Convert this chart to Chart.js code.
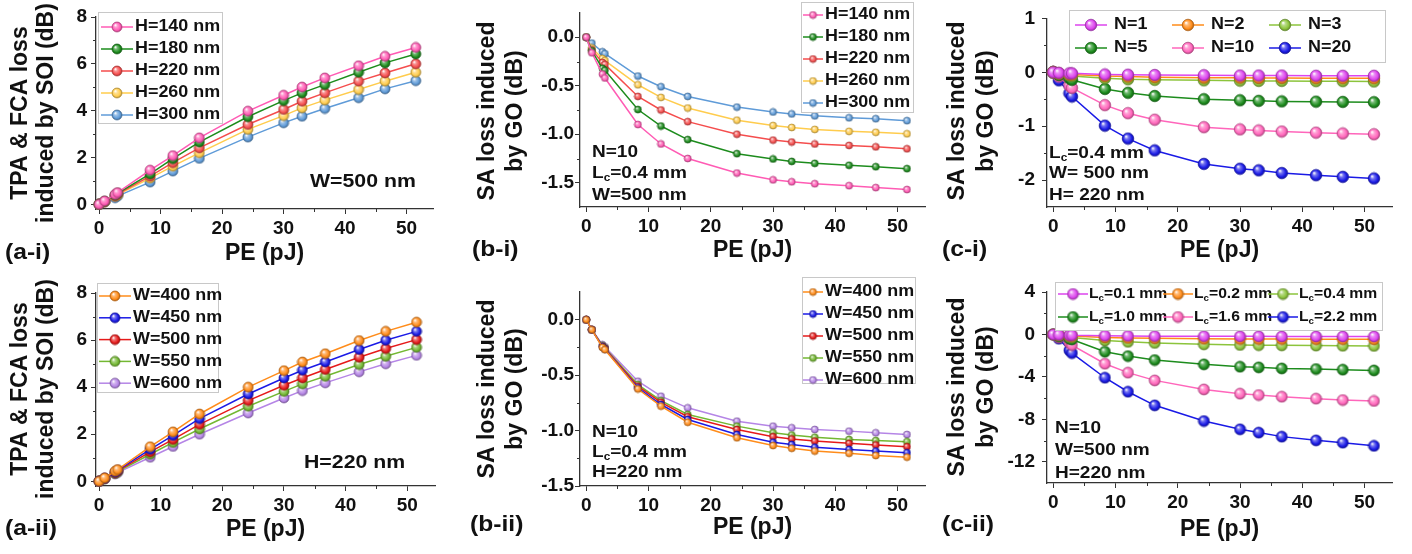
<!DOCTYPE html>
<html>
<head>
<meta charset="utf-8">
<script src="https://cdn.jsdelivr.net/npm/chart.js@4.4.1/dist/chart.umd.min.js"></script>
<style>
  html, body { margin: 0; padding: 0; background: #fff; }
  #wrap { position: relative; width: 1412px; height: 554px; overflow: hidden; }
  #wrap canvas { position: absolute; left: 0; top: 0; }
</style>
</head>
<body>
<div id="wrap">
  <canvas id="ai" width="1412" height="554"></canvas>
  <canvas id="aii" width="1412" height="554"></canvas>
  <canvas id="bi" width="1412" height="554"></canvas>
  <canvas id="bii" width="1412" height="554"></canvas>
  <canvas id="ci" width="1412" height="554"></canvas>
  <canvas id="cii" width="1412" height="554"></canvas>
</div>
<script>
// pulse energy (pJ), shared by every panel
const peValues = [0, 0.9, 2.6, 3.0, 8.3, 12.0, 16.3, 24.2, 30.0, 33.0, 36.7, 42.2, 46.5, 51.5];
const peTicks = [0, 10, 20, 30, 40, 50];

const heightLabels = ['H=140 nm', 'H=180 nm', 'H=220 nm', 'H=260 nm', 'H=300 nm'];
const widthLabels = ['W=400 nm', 'W=450 nm', 'W=500 nm', 'W=550 nm', 'W=600 nm'];
const layerLabels = ['N=1', 'N=2', 'N=3', 'N=5', 'N=10', 'N=20'];
const lengthLabels = ['L_c=0.1 mm', 'L_c=0.2 mm', 'L_c=0.4 mm', 'L_c=1.0 mm', 'L_c=1.6 mm', 'L_c=2.2 mm'];

// (a-i) TPA & FCA loss vs H (W=500 nm)
const soiH140 = [0, 0.14, 0.42, 0.50, 1.46, 2.08, 2.84, 3.98, 4.66, 5.01, 5.40, 5.92, 6.32, 6.70];
const soiH180 = [0, 0.13, 0.40, 0.47, 1.30, 1.95, 2.66, 3.74, 4.43, 4.76, 5.11, 5.64, 6.04, 6.42];
const soiH220 = [0, 0.12, 0.37, 0.44, 1.20, 1.78, 2.41, 3.41, 4.05, 4.40, 4.76, 5.26, 5.61, 6.00];
const soiH260 = [0, 0.11, 0.34, 0.40, 1.12, 1.63, 2.20, 3.20, 3.79, 4.12, 4.45, 4.90, 5.26, 5.64];
const soiH300 = [0, 0.10, 0.28, 0.35, 0.95, 1.42, 1.96, 2.87, 3.48, 3.76, 4.09, 4.55, 4.93, 5.28];

// (a-ii) TPA & FCA loss vs W (H=220 nm)
const soiW400 = [0, 0.14, 0.43, 0.50, 1.47, 2.10, 2.86, 4.00, 4.70, 5.07, 5.42, 5.98, 6.37, 6.76];
const soiW450 = [0, 0.13, 0.40, 0.47, 1.36, 1.95, 2.66, 3.71, 4.39, 4.72, 5.07, 5.60, 5.99, 6.37];
const soiW500 = [0, 0.12, 0.37, 0.44, 1.25, 1.78, 2.42, 3.43, 4.08, 4.39, 4.75, 5.27, 5.64, 6.02];
const soiW550 = [0, 0.11, 0.34, 0.41, 1.15, 1.65, 2.22, 3.19, 3.82, 4.14, 4.46, 4.96, 5.31, 5.69];
const soiW600 = [0, 0.10, 0.31, 0.37, 1.02, 1.48, 2.00, 2.90, 3.54, 3.85, 4.18, 4.65, 4.99, 5.35];

// (b-i) SA loss vs H
const goH140 = [0, -0.16, -0.38, -0.42, -0.90, -1.10, -1.25, -1.40, -1.47, -1.49, -1.51, -1.53, -1.55, -1.57];
const goH180 = [0, -0.14, -0.32, -0.34, -0.745, -0.915, -1.055, -1.20, -1.255, -1.28, -1.30, -1.32, -1.335, -1.355];
const goH220 = [0, -0.13, -0.26, -0.28, -0.61, -0.75, -0.87, -1.00, -1.06, -1.08, -1.10, -1.115, -1.13, -1.15];
const goH260 = [0, -0.11, -0.22, -0.24, -0.49, -0.62, -0.73, -0.855, -0.91, -0.93, -0.95, -0.97, -0.98, -0.995];
const goH300 = [0, -0.06, -0.15, -0.17, -0.40, -0.51, -0.61, -0.72, -0.77, -0.79, -0.81, -0.83, -0.84, -0.86];

// (b-ii) SA loss vs W
const goW400 = [0, -0.09, -0.25, -0.27, -0.625, -0.78, -0.925, -1.065, -1.135, -1.16, -1.185, -1.205, -1.225, -1.24];
const goW450 = [0, -0.09, -0.245, -0.265, -0.615, -0.765, -0.90, -1.035, -1.105, -1.125, -1.15, -1.17, -1.185, -1.20];
const goW500 = [0, -0.09, -0.24, -0.26, -0.60, -0.745, -0.875, -0.99, -1.055, -1.075, -1.095, -1.115, -1.13, -1.145];
const goW550 = [0, -0.09, -0.235, -0.255, -0.585, -0.73, -0.855, -0.96, -1.02, -1.04, -1.06, -1.08, -1.09, -1.10];
const goW600 = [0, -0.09, -0.225, -0.245, -0.555, -0.69, -0.795, -0.915, -0.96, -0.975, -0.99, -1.005, -1.02, -1.035];

// (c-i) SA loss vs number of GO layers
const goN1 = [0, -0.01, -0.02, -0.02, -0.04, -0.045, -0.05, -0.055, -0.06, -0.06, -0.06, -0.065, -0.065, -0.065];
const goN2 = [0, -0.02, -0.04, -0.04, -0.07, -0.08, -0.09, -0.10, -0.10, -0.105, -0.105, -0.11, -0.11, -0.11];
const goN3 = [0, -0.03, -0.06, -0.07, -0.11, -0.13, -0.14, -0.15, -0.155, -0.16, -0.16, -0.165, -0.165, -0.17];
const goN5 = [0, -0.05, -0.11, -0.14, -0.31, -0.38, -0.44, -0.50, -0.52, -0.53, -0.54, -0.545, -0.55, -0.555];
const goN10 = [0, -0.08, -0.25, -0.29, -0.61, -0.76, -0.88, -1.02, -1.06, -1.08, -1.10, -1.12, -1.135, -1.15];
const goN20 = [0, -0.15, -0.39, -0.45, -0.99, -1.23, -1.45, -1.70, -1.79, -1.82, -1.87, -1.91, -1.94, -1.97];

// (c-ii) SA loss vs GO coating length
const goL01 = [0, -0.03, -0.06, -0.07, -0.12, -0.14, -0.16, -0.17, -0.18, -0.18, -0.19, -0.19, -0.19, -0.19];
const goL02 = [0, -0.05, -0.13, -0.15, -0.28, -0.33, -0.37, -0.41, -0.43, -0.44, -0.44, -0.45, -0.45, -0.46];
const goL04 = [0, -0.10, -0.25, -0.28, -0.57, -0.70, -0.80, -0.93, -0.99, -1.01, -1.03, -1.05, -1.07, -1.08];
const goL10 = [0, -0.18, -0.40, -0.47, -1.63, -2.04, -2.41, -2.82, -3.04, -3.10, -3.20, -3.26, -3.32, -3.39];
const goL16 = [0, -0.30, -0.78, -1.00, -2.76, -3.60, -4.33, -5.18, -5.58, -5.71, -5.87, -6.05, -6.18, -6.27];
const goL22 = [0, -0.40, -1.50, -1.76, -4.08, -5.40, -6.68, -8.16, -8.94, -9.25, -9.63, -9.98, -10.20, -10.50];

const FONT = '"Liberation Sans", Arial, sans-serif';
const TEXT_STRETCH = 1.12; // the source figure is a bit wider than tall
Chart.defaults.font.family = FONT;
Chart.defaults.font.weight = 'bold';
Chart.defaults.color = '#111';

const colorsH = ['#ff5bb4', '#1d8c1d', '#f54d4d', '#ffcc4d', '#5f9bd8'];
const colorsW = ['#ff8c1a', '#1a1ae6', '#e61a1a', '#73b832', '#b585e6'];
const colorsC = ['#dd44ee', '#ff8c1a', '#8cc43c', '#1d8c1d', '#ff66bb', '#1a1ae6'];

function shade(hex, f) {
  const n = parseInt(hex.slice(1), 16);
  const t = f < 0 ? 0 : 255, p = Math.abs(f);
  const ch = [n >> 16, (n >> 8) & 255, n & 255].map(c => Math.round(c + (t - c) * p));
  return 'rgb(' + ch.join(',') + ')';
}

// glossy sphere used as point marker
function ball(color, r) {
  const c = document.createElement('canvas');
  const s = Math.ceil(2 * r + 2);
  c.width = s; c.height = s;
  const g = c.getContext('2d');
  const cx = s / 2, cy = s / 2;
  const grad = g.createRadialGradient(cx - r * 0.35, cy - r * 0.4, r * 0.05, cx, cy, r);
  grad.addColorStop(0, '#ffffff');
  grad.addColorStop(0.3, shade(color, 0.4));
  grad.addColorStop(0.75, color);
  grad.addColorStop(1, shade(color, -0.35));
  g.fillStyle = grad;
  g.beginPath(); g.arc(cx, cy, r, 0, Math.PI * 2); g.fill();
  g.strokeStyle = shade(color, -0.3);
  g.lineWidth = 0.7;
  g.stroke();
  return c;
}

// text with "_c" style subscripts
function richParts(text) {
  return text.split(/_(\w)/).map((p, i) => ({ p, sub: i % 2 === 1 })).filter(o => o.p);
}
function richWidth(ctx, text, size) {
  let w = 0;
  richParts(text).forEach(o => {
    ctx.font = 'bold ' + (o.sub ? size * 0.62 : size) + 'px ' + FONT;
    w += ctx.measureText(o.p).width;
  });
  return w;
}
function drawRich(ctx, text, x, y, size) {
  let cx = x;
  ctx.textAlign = 'left';
  richParts(text).forEach(o => {
    ctx.font = 'bold ' + (o.sub ? size * 0.62 : size) + 'px ' + FONT;
    ctx.fillText(o.p, cx, o.sub ? y + size * 0.3 : y);
    cx += ctx.measureText(o.p).width;
  });
}
function drawWide(ctx, text, x, y, size) {
  ctx.save();
  ctx.translate(x, y);
  ctx.scale(TEXT_STRETCH, 1);
  drawRich(ctx, text, 0, 0, size);
  ctx.restore();
}

const figureLegend = {
  id: 'figureLegend',
  afterDatasetsDraw(chart, args, opts) {
    if (!opts.box) return;
    const ctx = chart.ctx;
    ctx.save();
    const [bx, by, bw, bh] = opts.box;
    ctx.fillStyle = '#fff';
    ctx.fillRect(bx, by, bw, bh);
    ctx.strokeStyle = '#c8c8c8';
    ctx.lineWidth = 1;
    ctx.strokeRect(bx + 0.5, by + 0.5, bw, bh);
    chart.data.datasets.forEach((ds, i) => {
      const col = i % opts.cols, row = Math.floor(i / opts.cols);
      const x0 = opts.x + col * opts.colStep;
      const y = opts.y + row * opts.rowStep;
      ctx.strokeStyle = ds.borderColor;
      ctx.lineWidth = 1.5;
      ctx.beginPath(); ctx.moveTo(x0, y); ctx.lineTo(x0 + opts.lineLen, y); ctx.stroke();
      const img = ds.pointStyle;
      ctx.drawImage(img, x0 + opts.lineLen / 2 - img.width / 2, y - img.height / 2);
      ctx.fillStyle = '#111';
      ctx.textBaseline = 'middle';
      drawWide(ctx, ds.label, x0 + opts.lineLen + opts.gap, y, opts.size);
    });
    ctx.restore();
  }
};

const figureText = {
  id: 'figureText',
  afterDraw(chart, args, opts) {
    const ctx = chart.ctx;
    (opts.items || []).forEach(t => {
      ctx.save();
      ctx.fillStyle = '#111';
      ctx.textBaseline = 'middle';
      if (t.rotate) {
        ctx.translate(t.x, t.y);
        ctx.rotate(-Math.PI / 2);
        drawRich(ctx, t.text, -richWidth(ctx, t.text, t.size) / 2, 0, t.size);
      } else {
        drawWide(ctx, t.text, t.x, t.y, t.size);
      }
      ctx.restore();
    });
  }
};

const minorTicks = {
  id: 'minorTicks',
  afterDraw(chart, args, opts) {
    const ctx = chart.ctx, xs = chart.scales.x, ys = chart.scales.y;
    ctx.save();
    ctx.strokeStyle = '#333';
    ctx.lineWidth = 1;
    ctx.beginPath();
    (opts.x || []).forEach(v => {
      const px = Math.round(xs.getPixelForValue(v)) + 0.5;
      ctx.moveTo(px, xs.top); ctx.lineTo(px, xs.top + 3);
    });
    (opts.y || []).forEach(v => {
      const py = Math.round(ys.getPixelForValue(v)) + 0.5;
      ctx.moveTo(ys.right, py); ctx.lineTo(ys.right - 3, py);
    });
    ctx.stroke();
    ctx.restore();
  }
};

function panel(id, cfg) {
  const [L, T, R, B] = cfg.area;
  const lh = 23 * 1.2;
  const xBottom = cfg.xTitleY + lh / 2;
  const axisColor = '#333';
  new Chart(document.getElementById(id), {
    type: 'line',
    data: {
      datasets: cfg.series.map((s, i) => ({
        label: cfg.labels[i],
        data: peValues.map((x, k) => ({ x, y: s[k] })),
        borderColor: cfg.colors[i],
        borderWidth: 1.5,
        pointStyle: ball(cfg.colors[i], cfg.r),
        pointRadius: cfg.r,
        clip: false,
        tension: 0
      }))
    },
    options: {
      responsive: false,
      animation: false,
      devicePixelRatio: 1,
      events: [],
      layout: { autoPadding: false, padding: { left: 0, top: T, right: 1412 - R, bottom: 554 - xBottom } },
      plugins: {
        legend: { display: false },
        tooltip: { enabled: false },
        figureLegend: cfg.legend,
        figureText: { items: cfg.texts },
        minorTicks: { x: [5, 15, 25, 35, 45], y: cfg.yMinor }
      },
      scales: {
        x: {
          type: 'linear', min: cfg.xRange[0], max: cfg.xRange[1],
          afterFit: s => { s.height = xBottom - B; },
          afterBuildTicks: s => { s.ticks = peTicks.map(v => ({ value: v })); },
          ticks: { font: { size: 19, weight: 'bold' }, color: '#111', padding: 3, maxRotation: 0 },
          grid: { drawOnChartArea: false, drawTicks: true, tickLength: 5, color: axisColor, lineWidth: 1 },
          border: { display: true, color: axisColor, width: 1.3 },
          title: { display: true, text: 'PE (pJ)', font: { size: 23, weight: 'bold', lineHeight: 1.2 }, padding: 0, color: '#111' }
        },
        y: {
          type: 'linear', min: cfg.yRange[0], max: cfg.yRange[1],
          afterFit: s => { s.width = L; },
          afterBuildTicks: s => { s.ticks = cfg.yTicks.map(v => ({ value: v })); },
          ticks: { font: { size: 19, weight: 'bold' }, color: '#111', padding: cfg.yPad, callback: cfg.yFmt },
          grid: { drawOnChartArea: false, drawTicks: true, tickLength: 5, color: axisColor, lineWidth: 1 },
          border: { display: true, color: axisColor, width: 1.3 }
        }
      }
    },
    plugins: [figureLegend, figureText, minorTicks]
  });
}

const intFmt = v => String(v);
const oneDec = v => v.toFixed(1);

panel('ai', {
  area: [96, 17, 433, 209], xRange: [-0.5, 54.3], yRange: [-0.2, 8],
  yTicks: [0, 2, 4, 6, 8], yMinor: [1, 3, 5, 7], yFmt: intFmt, yPad: 4, r: 5,
  series: [soiH140, soiH180, soiH220, soiH260, soiH300], labels: heightLabels, colors: colorsH,
  xTitleY: 254,
  legend: { box: [98, 12, 124, 111], cols: 1, colStep: 0, x: 101, y: 27, rowStep: 22, lineLen: 32, gap: 2, size: 16 },
  texts: [
    { text: 'TPA & FCA loss', x: 21, y: 113, size: 23, rotate: true },
    { text: 'induced by SOI (dB)', x: 47, y: 113, size: 23, rotate: true },
    { text: 'W=500 nm', x: 310, y: 182, size: 19 },
    { text: '(a-i)', x: 5, y: 253, size: 22 }
  ]
});

panel('aii', {
  area: [96, 293, 435, 486], xRange: [-0.5, 54.5], yRange: [-0.2, 8],
  yTicks: [0, 2, 4, 6, 8], yMinor: [1, 3, 5, 7], yFmt: intFmt, yPad: 4, r: 5,
  series: [soiW400, soiW450, soiW500, soiW550, soiW600], labels: widthLabels, colors: colorsW,
  xTitleY: 530,
  legend: { box: [97, 283, 121, 109], cols: 1, colStep: 0, x: 99, y: 296, rowStep: 21.8, lineLen: 32, gap: 2, size: 16 },
  texts: [
    { text: 'TPA & FCA loss', x: 21, y: 389, size: 23, rotate: true },
    { text: 'induced by SOI (dB)', x: 47, y: 389, size: 23, rotate: true },
    { text: 'H=220 nm', x: 304, y: 463, size: 19 },
    { text: '(a-ii)', x: 5, y: 529, size: 22 }
  ]
});

panel('bi', {
  area: [580, 13, 925, 207], xRange: [-1, 54.4], yRange: [-1.75, 0.25],
  yTicks: [0, -0.5, -1, -1.5], yMinor: [-0.25, -0.75, -1.25], yFmt: oneDec, yPad: 1, r: 3.5,
  series: [goH140, goH180, goH220, goH260, goH300], labels: heightLabels, colors: colorsH,
  xTitleY: 251,
  legend: { box: [801, 2, 112, 110], cols: 1, colStep: 0, x: 803, y: 15, rowStep: 22, lineLen: 20, gap: 2, size: 16 },
  texts: [
    { text: 'SA loss induced', x: 488, y: 111, size: 23, rotate: true },
    { text: 'by GO (dB)', x: 516, y: 111, size: 23, rotate: true },
    { text: 'N=10', x: 592, y: 152, size: 17 },
    { text: 'L_c=0.4 mm', x: 592, y: 173, size: 17 },
    { text: 'W=500 nm', x: 592, y: 195, size: 17 },
    { text: '(b-i)', x: 472, y: 250, size: 22 }
  ]
});

panel('bii', {
  area: [580, 292, 925, 486], xRange: [-1, 54.4], yRange: [-1.5, 0.25],
  yTicks: [0, -0.5, -1, -1.5], yMinor: [-0.25, -0.75, -1.25], yFmt: oneDec, yPad: 1, r: 3.5,
  series: [goW400, goW450, goW500, goW550, goW600], labels: widthLabels, colors: colorsW,
  xTitleY: 528,
  legend: { box: [802, 277, 113, 106], cols: 1, colStep: 0, x: 803, y: 292, rowStep: 22, lineLen: 20, gap: 2, size: 16 },
  texts: [
    { text: 'SA loss induced', x: 488, y: 389, size: 23, rotate: true },
    { text: 'by GO (dB)', x: 516, y: 389, size: 23, rotate: true },
    { text: 'N=10', x: 592, y: 432, size: 17 },
    { text: 'L_c=0.4 mm', x: 592, y: 452, size: 17 },
    { text: 'H=220 nm', x: 592, y: 472, size: 17 },
    { text: '(b-ii)', x: 470, y: 525, size: 22 }
  ]
});

panel('ci', {
  area: [1047, 16, 1392, 207], xRange: [-1, 54.4], yRange: [-2.5, 1],
  yTicks: [1, 0, -1, -2], yMinor: [0.5, -0.5, -1.5], yFmt: intFmt, yPad: 7, r: 5.8,
  series: [goN1, goN2, goN3, goN5, goN10, goN20], labels: layerLabels, colors: colorsC,
  xTitleY: 251,
  legend: { box: [1069, 10, 316, 52], cols: 3, colStep: 97, x: 1075, y: 25, rowStep: 23, lineLen: 32, gap: 7, size: 16 },
  texts: [
    { text: 'SA loss induced', x: 958, y: 111, size: 23, rotate: true },
    { text: 'by GO (dB)', x: 987, y: 111, size: 23, rotate: true },
    { text: 'L_c=0.4 mm', x: 1049, y: 153, size: 17 },
    { text: 'W= 500 nm', x: 1049, y: 173, size: 17 },
    { text: 'H= 220 nm', x: 1049, y: 195, size: 17 },
    { text: '(c-i)', x: 942, y: 250, size: 22 }
  ]
});

panel('cii', {
  area: [1047, 292, 1392, 483], xRange: [-1, 54.4], yRange: [-14, 4],
  yTicks: [4, 0, -4, -8, -12], yMinor: [2, -2, -6, -10], yFmt: intFmt, yPad: 7, r: 5.5,
  series: [goL01, goL02, goL04, goL10, goL16, goL22], labels: lengthLabels, colors: colorsC,
  xTitleY: 530,
  legend: { box: [1055, 282, 327, 48], cols: 3, colStep: 105, x: 1058, y: 294, rowStep: 23, lineLen: 30, gap: 1, size: 14 },
  texts: [
    { text: 'SA loss induced', x: 958, y: 387, size: 23, rotate: true },
    { text: 'by GO (dB)', x: 987, y: 387, size: 23, rotate: true },
    { text: 'N=10', x: 1055, y: 428, size: 17 },
    { text: 'W=500 nm', x: 1055, y: 450, size: 17 },
    { text: 'H=220 nm', x: 1055, y: 473, size: 17 },
    { text: '(c-ii)', x: 942, y: 525, size: 22 }
  ]
});
</script>
</body>
</html>
